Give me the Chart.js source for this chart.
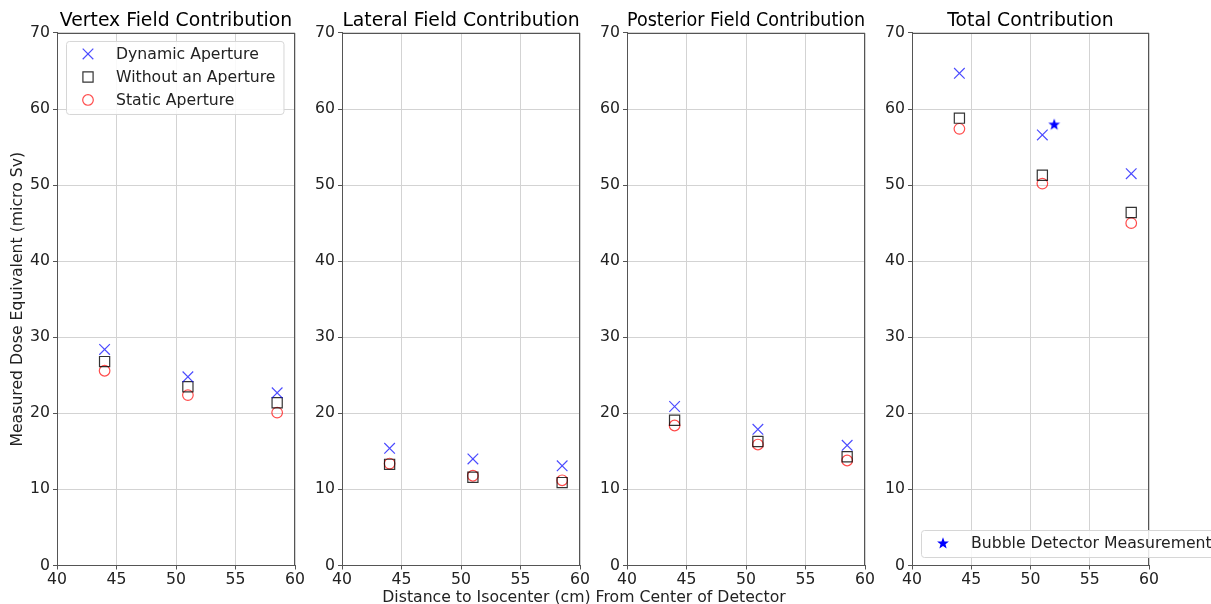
<!DOCTYPE html>
<html>
<head>
<meta charset="utf-8">
<script src="https://cdn.jsdelivr.net/npm/chart.js@4.4.0/dist/chart.umd.min.js"></script>
<style>
  body { margin: 0; background: #fff; width: 1211px; height: 604px; position: relative; overflow: hidden; }
  canvas { position: absolute; top: 0; }
  #xlabel { position: absolute; left: 0; width: 1168px; top: 587px; text-align: center;
            font: 15.7px 'DejaVu Sans'; color: #222; }
</style>
</head>
<body>
<canvas id="p1" width="307" height="604" style="left:0px"></canvas>
<canvas id="p2" width="295" height="604" style="left:297px"></canvas>
<canvas id="p3" width="295" height="604" style="left:582px"></canvas>
<canvas id="p4" width="344" height="604" style="left:867px"></canvas>
<div id="xlabel">Distance to Isocenter (cm) From Center of Detector</div>
<script>
// distances (cm) and measured dose (micro Sv)
const distances = [44, 51, 58.5];

const vertexDynamic = [28.4, 24.8, 22.7];
const vertexWithout = [26.8, 23.5, 21.4];
const vertexStatic = [25.6, 22.4, 20.1];

const lateralDynamic = [15.4, 14.0, 13.1];
const lateralWithout = [13.3, 11.6, 10.9];
const lateralStatic = [13.4, 11.8, 11.2];

const posteriorDynamic = [20.9, 17.9, 15.8];
const posteriorWithout = [19.1, 16.3, 14.3];
const posteriorStatic = [18.4, 15.9, 13.8];

const totalDynamic = [64.7, 56.6, 51.5];
const totalWithout = [58.8, 51.3, 46.4];
const totalStatic = [57.4, 50.2, 45.0];

const bubbleDistance = [52];
const bubbleDose = [58];

const xTicks = [40, 45, 50, 55, 60];
const yTicks = [0, 10, 20, 30, 40, 50, 60, 70];

Chart.defaults.font.family = "'DejaVu Sans'";
Chart.defaults.color = "#222";

const axisColor = "#555";
const gridColor = "#d3d3d3";
const textSize = 15.7;

// filled star marker for the bubble detector point
const star = document.createElement("canvas");
star.width = 14; star.height = 14;
(function () {
  const c = star.getContext("2d");
  c.fillStyle = "#0000ff";
  c.beginPath();
  for (let i = 0; i < 10; i++) {
    const r = i % 2 === 0 ? 6.2 : 2.6;
    const a = -Math.PI / 2 + i * Math.PI / 5;
    c.lineTo(7 + r * Math.cos(a), 7.5 + r * Math.sin(a));
  }
  c.closePath();
  c.fill();
})();

function pts(xs, ys) {
  return xs.map((x, i) => ({ x: x, y: ys[i] }));
}

function threeSeries(dyn, without, stat) {
  return [
    { label: "Dynamic Aperture", data: pts(distances, dyn), pointStyle: "crossRot",
      pointRadius: 7.5, borderColor: "rgba(0,0,255,0.7)", backgroundColor: "transparent", pointBorderWidth: 1.2 },
    { label: "Without an Aperture", data: pts(distances, without), pointStyle: "rect",
      pointRadius: 7.2, borderColor: "rgba(0,0,0,0.8)", backgroundColor: "transparent", pointBorderWidth: 1.2 },
    { label: "Static Aperture", data: pts(distances, stat), pointStyle: "circle",
      pointRadius: 5.3, borderColor: "rgba(255,0,0,0.7)", backgroundColor: "transparent", pointBorderWidth: 1.2 },
  ];
}

// box around the plot area (matplotlib spines)
const frame = {
  id: "frame",
  beforeDatasetsDraw(chart) {
    const a = chart.chartArea, ctx = chart.ctx;
    ctx.save();
    ctx.strokeStyle = axisColor;
    ctx.lineWidth = 1;
    ctx.strokeRect(Math.round(a.left) + 0.5, Math.round(a.top) + 0.5,
                   Math.round(a.right - a.left) - 1, Math.round(a.bottom - a.top) - 1);
    ctx.restore();
  }
};

// matplotlib-like legend inside the axes
const boxLegend = {
  id: "boxLegend",
  afterDraw(chart, args, opts) {
    if (!opts.show) return;
    const a = chart.chartArea, ctx = chart.ctx;
    const items = chart.data.datasets.filter(d => d.label);
    ctx.save();
    ctx.font = textSize + "px 'DejaVu Sans'";
    const tw = Math.max(...items.map(d => ctx.measureText(d.label).width));
    const h = items.length * 23 + 4;
    const w = 50 + tw + 8;
    const left = a.left + 9;
    const top = opts.corner === "bottom" ? a.bottom - 8.5 - h : a.top + 8;
    ctx.fillStyle = "rgba(255,255,255,0.85)";
    ctx.strokeStyle = "#d6d6d6";
    ctx.lineWidth = 1;
    ctx.beginPath();
    ctx.roundRect(left + 0.5, top + 0.5, w, h, 3);
    ctx.fill();
    ctx.stroke();
    items.forEach((d, i) => {
      const cy = top + 13 + i * 23;
      ctx.strokeStyle = d.borderColor;
      ctx.fillStyle = d.backgroundColor;
      ctx.lineWidth = d.pointBorderWidth;
      Chart.helpers.drawPoint(ctx, { pointStyle: d.pointStyle, radius: d.pointRadius, rotation: 0,
        borderWidth: d.pointBorderWidth }, left + 22, cy);
      ctx.fillStyle = "#222";
      ctx.textBaseline = "middle";
      ctx.fillText(d.label, left + 50, cy + 1);
    });
    ctx.restore();
  }
};

function makePanel(id, title, datasets, gutter, padRight, yTitle, legend) {
  return new Chart(document.getElementById(id), {
    type: "scatter",
    data: { datasets: datasets },
    plugins: [frame, boxLegend],
    options: {
      responsive: false,
      animation: false,
      layout: { padding: { top: 0, right: padRight, bottom: 0, left: 0 } },
      plugins: {
        legend: { display: false },
        tooltip: { enabled: false },
        title: { display: true, text: title, fullSize: false, color: "#000",
                 font: { size: 18.8, weight: "normal" }, padding: { top: 10, bottom: 0.4 } },
        boxLegend: legend
      },
      scales: {
        x: {
          type: "linear", min: 40, max: 60,
          afterBuildTicks: s => { s.ticks = xTicks.map(v => ({ value: v })); },
          afterFit: s => { s.height = 38.5; },
          grid: { color: gridColor, tickColor: axisColor, tickLength: 4 },
          border: { color: axisColor },
          ticks: { font: { size: textSize }, padding: 1, maxRotation: 0 }
        },
        y: {
          min: 0, max: 70,
          afterBuildTicks: s => { s.ticks = yTicks.map(v => ({ value: v })); },
          afterFit: s => { s.width = gutter; },
          grid: { color: gridColor, tickColor: axisColor, tickLength: 4 },
          border: { color: axisColor },
          ticks: { font: { size: textSize }, padding: 3 },
          title: { display: !!yTitle, text: yTitle || "", font: { size: textSize },
                   padding: { top: 9, bottom: 0 } }
        }
      }
    }
  });
}

makePanel("p1", "Vertex Field Contribution",
  threeSeries(vertexDynamic, vertexWithout, vertexStatic), 57, 12,
  "Measured Dose Equivalent (micro Sv)", { show: true, corner: "top" });

makePanel("p2", "Lateral Field Contribution",
  threeSeries(lateralDynamic, lateralWithout, lateralStatic), 45, 12, null, { show: false });

makePanel("p3", "Posterior Field Contribution",
  threeSeries(posteriorDynamic, posteriorWithout, posteriorStatic), 45, 12, null, { show: false });

const totalSets = threeSeries(totalDynamic, totalWithout, totalStatic).map(d => Object.assign(d, { label: "" }));
totalSets.push({ label: "Bubble Detector Measurement", data: pts(bubbleDistance, bubbleDose),
  pointStyle: star, pointRadius: 7, borderColor: "#0000ff", backgroundColor: "#0000ff", pointBorderWidth: 0 });

makePanel("p4", "Total Contribution", totalSets, 45, 62, null, { show: true, corner: "bottom" });
</script>
</body>
</html>
